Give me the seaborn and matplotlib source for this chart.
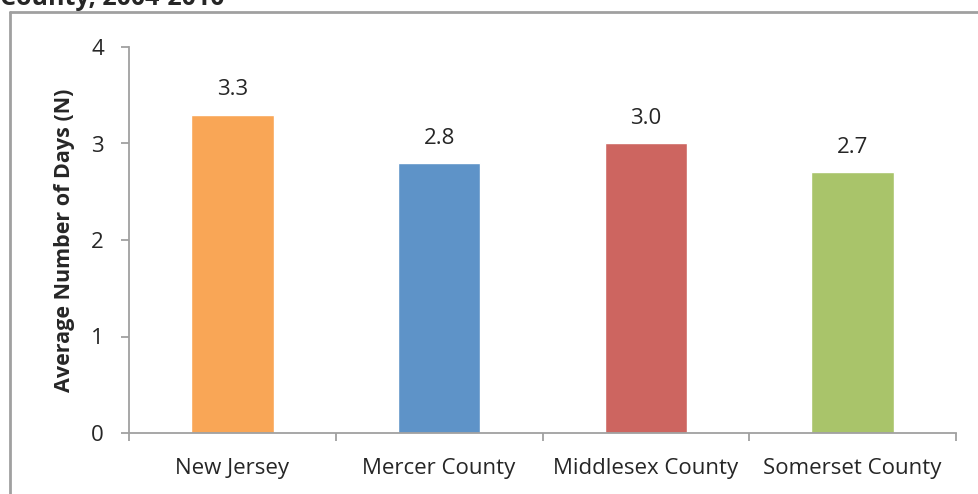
import matplotlib
matplotlib.use("Agg")
import matplotlib.pyplot as plt
import seaborn as sns
import pandas as pd
from matplotlib.lines import Line2D

regions = ["New Jersey", "Mercer County", "Middlesex County", "Somerset County"]
avg_days = [3.3, 2.8, 3.0, 2.7]
bar_colors = ["#F9A656", "#5E93C8", "#CD6560", "#A9C46A"]
y_ticks = [0, 1, 2, 3, 4]

sns.set_style("white")
plt.rcParams["font.family"] = ["Open Sans", "DejaVu Sans"]

df = pd.DataFrame({"region": regions, "days": avg_days})

fig = plt.figure(figsize=(9.79, 4.94), dpi=100)
ax = fig.add_axes([129 / 979, 1 - 433 / 494, (956 - 129) / 979, (433 - 47) / 494])

sns.barplot(data=df, x="region", y="days", hue="region", palette=bar_colors,
            width=0.4, legend=False, ax=ax, saturation=1)

for i, v in enumerate(avg_days):
    ax.text(i, v + 0.2, f"{v:.1f}", ha="center", va="baseline", fontsize=16)

grey = "#A0A0A0"
ax.set_ylim(0, 4)
ax.set_xlim(-0.5, len(regions) - 0.5)
ax.set_yticks(y_ticks)
ax.set_yticklabels([str(t) for t in y_ticks], fontsize=16)
ax.set_xticks(range(len(regions)))
ax.set_xticklabels(regions, fontsize=16)
ax.tick_params(axis="x", length=0, pad=18)
ax.tick_params(axis="y", length=6, color=grey, width=1.3, pad=12, left=True)
# category boundary ticks on x axis
ax.set_xticks([i - 0.5 for i in range(len(regions) + 1)], minor=True)
ax.tick_params(axis="x", which="minor", length=6, color=grey, width=1.3, bottom=True)

for s in ["top", "right"]:
    ax.spines[s].set_visible(False)
for s in ["left", "bottom"]:
    ax.spines[s].set_color(grey)
    ax.spines[s].set_linewidth(1.3)

ax.set_xlabel("")
ax.set_ylabel("Average Number of Days (N)", fontsize=15.5, fontweight="bold", labelpad=12)

# outer chart frame
fig.add_artist(Line2D([10 / 979, 1.0], [1 - 12 / 494, 1 - 12 / 494], color="#A0A0A0", lw=2))
fig.add_artist(Line2D([10 / 979, 10 / 979], [0, 1 - 12 / 494], color="#A0A0A0", lw=2))

# title, cut off at the top edge as in the source image
fig.text(0.0, 1 - 5 / 494, "County, 2004-2010", fontsize=18, fontweight="bold",
         ha="left", va="baseline")

fig.savefig("out.png", dpi=100)
